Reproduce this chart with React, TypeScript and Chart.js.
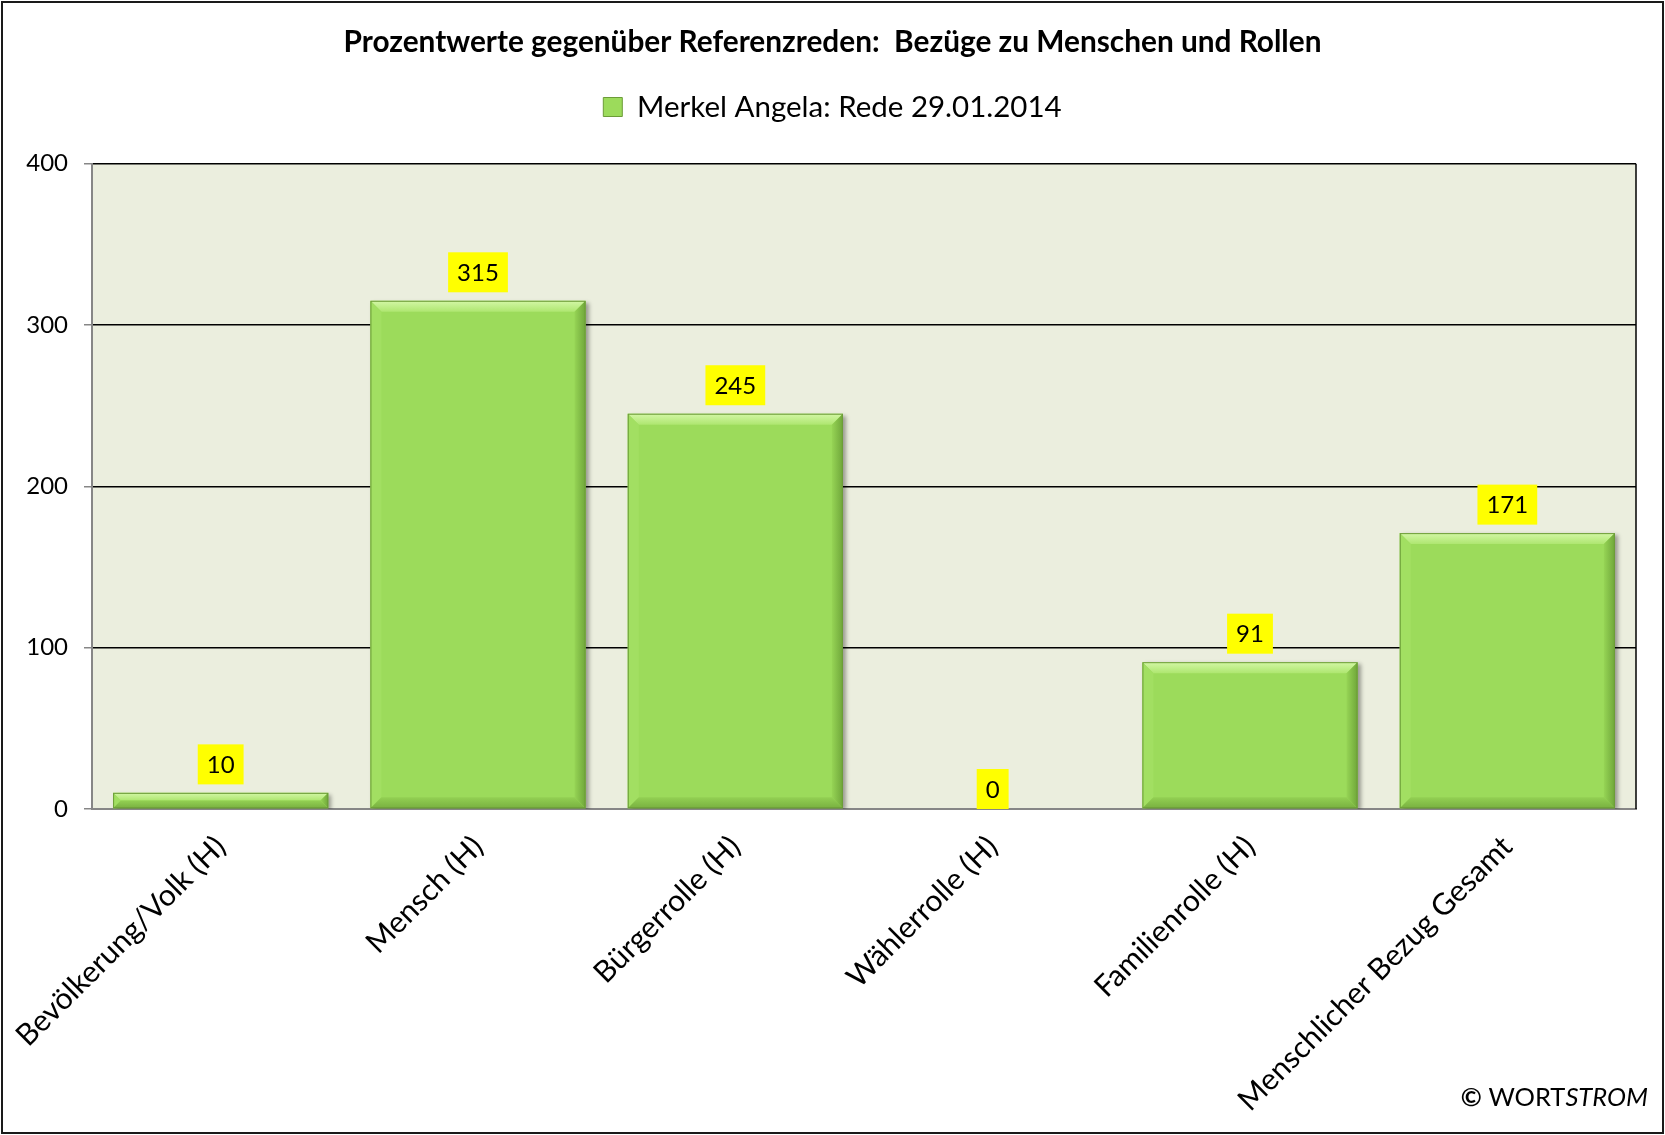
import React, { useEffect, useRef } from 'react';
import { Chart, registerables } from 'chart.js';

Chart.register(...registerables);

const titleText = 'Prozentwerte gegenüber Referenzreden:  Bezüge zu Menschen und Rollen';
const seriesName = 'Merkel Angela: Rede 29.01.2014';
const categories = [
  'Bevölkerung/Volk (H)',
  'Mensch (H)',
  'Bürgerrolle (H)',
  'Wählerrolle (H)',
  'Familienrolle (H)',
  'Menschlicher Bezug Gesamt',
];
const values = [10, 315, 245, 0, 91, 171];
const yMin = 0;
const yMax = 400;
const yStep = 100;

const FONT = 'Lato, "Open Sans", sans-serif';
const BAR = '#9CDB5B';
const PLOT_BG = '#EBEEDE';
const AXIS_GRAY = '#868686';

const framePlugin = {
  id: 'frame',
  beforeDraw(chart: any) {
    const { ctx, chartArea: a, width, height } = chart;
    ctx.save();
    ctx.fillStyle = '#ffffff';
    ctx.fillRect(0, 0, width, height);
    ctx.fillStyle = PLOT_BG;
    ctx.fillRect(a.left, a.top, a.right - a.left, a.bottom - a.top);
    ctx.restore();
  },
  afterDraw(chart: any) {
    const { ctx, chartArea: a, width, height } = chart;
    ctx.save();
    ctx.strokeStyle = '#000';
    ctx.lineWidth = 1.5;
    ctx.beginPath();
    ctx.moveTo(a.right, a.top);
    ctx.lineTo(a.right, a.bottom);
    ctx.stroke();
    ctx.strokeStyle = '#1a1a1a';
    ctx.lineWidth = 2;
    ctx.strokeRect(2, 2, width - 4, height - 4);
    ctx.fillStyle = '#000';
    ctx.textBaseline = 'alphabetic';
    ctx.textAlign = 'left';
    const sz = 25.5;
    const copy = `bold ${sz}px ${FONT}`;
    const normal = `${sz}px ${FONT}`;
    const ital = `italic ${sz}px ${FONT}`;
    ctx.font = ital;
    const w3 = ctx.measureText('STROM').width;
    ctx.font = normal;
    const w2 = ctx.measureText(' WORT').width;
    ctx.font = copy;
    const w1 = ctx.measureText('©').width;
    const right = 1648;
    const base = 1106;
    ctx.fillText('©', right - w3 - w2 - w1, base);
    ctx.font = normal;
    ctx.fillText(' WORT', right - w3 - w2, base);
    ctx.font = ital;
    ctx.fillText('STROM', right - w3, base);
    ctx.restore();
  },
};

const bevelPlugin = {
  id: 'bevel',
  beforeDatasetsDraw(chart: any) {
    const { ctx } = chart;
    ctx.save();
    ctx.shadowColor = 'rgba(0,0,0,0.35)';
    ctx.shadowOffsetX = 3;
    ctx.shadowOffsetY = 2;
    ctx.shadowBlur = 4;
  },
  afterDatasetsDraw(chart: any) {
    const { ctx } = chart;
    ctx.restore();
    const meta = chart.getDatasetMeta(0);
    meta.data.forEach((el: any) => {
      const p = el.getProps(['x', 'y', 'base', 'width'], true);
      const L = p.x - p.width / 2;
      const R = p.x + p.width / 2;
      const T = Math.min(p.y, p.base);
      const B = Math.max(p.y, p.base);
      const h = B - T;
      if (h < 1) return;
      const b = Math.min(11, h / 2);
      ctx.save();
      const gt = ctx.createLinearGradient(0, T, 0, T + b);
      gt.addColorStop(0, '#D3F7A6');
      gt.addColorStop(1, '#AEE670');
      ctx.fillStyle = gt;
      ctx.beginPath();
      ctx.moveTo(L, T);
      ctx.lineTo(R, T);
      ctx.lineTo(R - b, T + b);
      ctx.lineTo(L + b, T + b);
      ctx.closePath();
      ctx.fill();
      ctx.fillStyle = '#A2DF62';
      ctx.beginPath();
      ctx.moveTo(L, T);
      ctx.lineTo(L + b, T + b);
      ctx.lineTo(L + b, B - b);
      ctx.lineTo(L, B);
      ctx.closePath();
      ctx.fill();
      const gr = ctx.createLinearGradient(R - b, 0, R, 0);
      gr.addColorStop(0, '#96D455');
      gr.addColorStop(1, '#6FA63A');
      ctx.fillStyle = gr;
      ctx.beginPath();
      ctx.moveTo(R, T);
      ctx.lineTo(R, B);
      ctx.lineTo(R - b, B - b);
      ctx.lineTo(R - b, T + b);
      ctx.closePath();
      ctx.fill();
      const gb = ctx.createLinearGradient(0, B - b, 0, B);
      gb.addColorStop(0, '#93D053');
      gb.addColorStop(1, '#78B040');
      ctx.fillStyle = gb;
      ctx.beginPath();
      ctx.moveTo(L, B);
      ctx.lineTo(R, B);
      ctx.lineTo(R - b, B - b);
      ctx.lineTo(L + b, B - b);
      ctx.closePath();
      ctx.fill();
      ctx.strokeStyle = '#6C9C38';
      ctx.lineWidth = 1;
      ctx.strokeRect(L + 0.5, T + 0.5, R - L - 1, B - T - 1);
      ctx.restore();
    });
    ctx.save();
    ctx.font = `24px ${FONT}`;
    ctx.textAlign = 'center';
    ctx.textBaseline = 'middle';
    meta.data.forEach((el: any, i: number) => {
      const p = el.getProps(['x', 'y', 'base'], true);
      const txt = String(values[i]);
      const tw = ctx.measureText(txt).width;
      const bw = tw + 18;
      const bh = 40;
      const gap = Math.abs(p.base - p.y) < 1 ? 0 : 8.5;
      const bottom = p.y - gap;
      ctx.fillStyle = '#FFFF00';
      ctx.fillRect(p.x - bw / 2, bottom - bh, bw, bh);
      ctx.fillStyle = '#000';
      ctx.fillText(txt, p.x, bottom - bh / 2 + 1);
    });
    ctx.restore();
  },
};

export default function App() {
  const ref = useRef<HTMLCanvasElement | null>(null);
  useEffect(() => {
    if (!ref.current) return;
    const chart = new Chart(ref.current, {
      type: 'bar',
      data: {
        labels: categories,
        datasets: [
          {
            label: seriesName,
            data: values,
            backgroundColor: BAR,
            borderColor: '#6C9C38',
            borderWidth: 0,
            barPercentage: 0.836,
            categoryPercentage: 1,
          },
        ],
      },
      options: {
        responsive: false,
        animation: false,
        layout: { padding: { top: 0, left: 0, right: 0, bottom: 0 } },
        plugins: {
          title: {
            display: true,
            text: titleText,
            color: '#000',
            font: { family: FONT, size: 29.8, weight: 'bold' },
            padding: { top: 24.5, bottom: 22 },
          },
          subtitle: {
            display: true,
            text: ' ',
            weight: 100,
            font: { family: FONT, size: 12 },
            padding: { top: 0, bottom: 17.5 },
          },
          legend: {
            display: true,
            position: 'top',
            labels: {
              color: '#000',
              font: { family: FONT, size: 29.5 },
              boxWidth: 19,
              boxHeight: 19,
              padding: 10,
              generateLabels: () => [
                {
                  text: seriesName,
                  fillStyle: BAR,
                  strokeStyle: '#6C9C38',
                  lineWidth: 1,
                  hidden: false,
                  datasetIndex: 0,
                },
              ],
            },
          },
          tooltip: { enabled: false },
        },
        scales: {
          x: {
            grid: { display: false },
            border: { display: true, color: AXIS_GRAY, width: 2 },
            ticks: {
              color: '#000',
              font: { family: FONT, size: 30 },
              maxRotation: 45,
              minRotation: 45,
              padding: 12,
              autoSkip: false,
            },
            afterFit(scale: any) {
              scale.height = 326;
            },
          },
          y: {
            min: yMin,
            max: yMax,
            ticks: {
              stepSize: yStep,
              color: '#000',
              font: { family: FONT, size: 24 },
              padding: 16,
            },
            grid: {
              color: (c: any) => (c.tick && c.tick.value === 0 ? AXIS_GRAY : '#000'),
              lineWidth: 1.5,
              drawTicks: true,
              tickLength: 8,
              tickColor: AXIS_GRAY,
            },
            border: { display: true, color: AXIS_GRAY, width: 2 },
            afterFit(scale: any) {
              scale.width = 92;
            },
          },
          yRight: {
            position: 'right',
            display: true,
            min: yMin,
            max: yMax,
            grid: { display: false, drawTicks: false },
            border: { display: false },
            ticks: { display: false },
            afterFit(scale: any) {
              scale.width = 29;
            },
          },
        },
      },
      plugins: [framePlugin, bevelPlugin],
    });
    return () => chart.destroy();
  }, []);
  return (
    <div style={{ position: 'fixed', left: 0, top: 0, width: 1665, height: 1135, background: '#fff' }}>
      <canvas ref={ref} width={1665} height={1135} style={{ display: 'block' }} />
    </div>
  );
}
